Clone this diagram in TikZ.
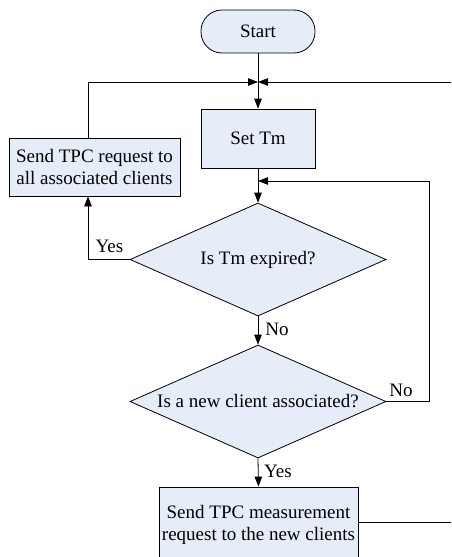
\documentclass[tikz,border=0pt]{standalone}
\usepackage{fontspec}
\setmainfont{Liberation Serif}
\usetikzlibrary{arrows.meta,shapes.geometric}
\definecolor{boxfill}{RGB}{230,236,248}
\tikzset{
  base/.style={draw=black, line width=0.8pt, fill=boxfill, inner sep=2pt, align=center,
    font=\fontsize{19}{22.5}\selectfont},
  procbox/.style={base, rectangle},
  termbox/.style={base, rectangle, rounded corners=21pt},
  decbox/.style={base, diamond, aspect=2.27, inner sep=0pt},
  flow/.style={line width=0.8pt, draw=black, -{Triangle[length=10pt,width=7.5pt]}},
  plain/.style={line width=0.8pt, draw=black},
  lab/.style={font=\fontsize{19}{22.5}\selectfont, inner sep=0pt}
}
\begin{document}
\begin{tikzpicture}[x=1pt,y=-1pt]
\useasboundingbox (0,0) rectangle (451,557);
\clip (0,0) rectangle (451,557);
\node[termbox, minimum width=114pt, minimum height=43pt] (start) at (258,31.5) {Start};
\node[procbox, minimum width=114pt, minimum height=59pt] (settm) at (258,138.5) {Set Tm};
\node[procbox, minimum width=171pt, minimum height=58pt] (req) at (94.5,167) {Send TPC request to\\all associated clients};
\node[decbox, minimum width=256pt, minimum height=113pt] (d1) at (258,259.5) {Is Tm expired?};
\node[decbox, minimum width=256pt, minimum height=113pt] (d2) at (258,401.5) {Is a new client associated?};
\node[procbox, minimum width=199pt, minimum height=76pt] (meas) at (258.5,525) {Send TPC measurement\\request to the new clients};
\coordinate (m) at (258,82);
\coordinate (rin) at (451,82);
\coordinate (loopx) at (429,181);
\coordinate (loopin) at (258,181);
\coordinate (reqx) at (88,167);
\coordinate (out2) at (451,522);
% start to Set Tm
\draw[flow] (start.south) -- (settm.north);
% left loop into merge
\draw[flow] (req.north -| reqx) |- (m);
% right entry into merge
\draw[flow] (rin) -- (m);
% Set Tm to d1
\draw[flow] (settm.south) -- (d1.north);
% d1 yes
\draw[flow] (d1.west) -| (req.south -| reqx);
\node[lab] (yes1) at (109.5,246) {Yes};
% d1 no
\draw[flow] (d1.south) -- (d2.north);
\node[lab] (no1) at (277,329) {No};
% d2 no loop
\draw[flow] (d2.east) -| (loopx) -- (loopin);
\node[lab] (no2) at (401,390) {No};
% d2 yes
\draw[flow] (d2.south) -- (meas.north);
\node[lab] (yes2) at (278,471) {Yes};
% measurement out
\draw[plain] (meas.east |- out2) -- (out2);
\end{tikzpicture}
\end{document}
